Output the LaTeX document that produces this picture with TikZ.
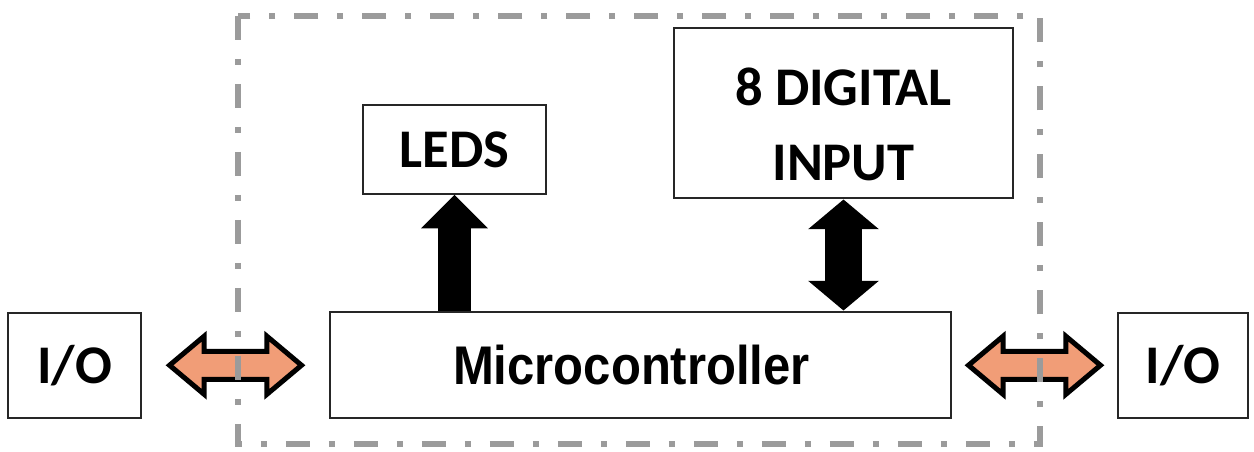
\documentclass[tikz,border=0pt]{standalone}
\usepackage{fontspec}
\setmainfont{Carlito}
\newfontfamily\mcufont[FakeStretch=0.9]{Liberation Sans}
\usetikzlibrary{arrows.meta,positioning,shapes.arrows,calc}
\definecolor{linkorange}{RGB}{241,157,119}
\definecolor{framegray}{RGB}{155,155,155}

\begin{document}
\begin{tikzpicture}[
  x=0.02cm, y=-0.02cm,
  box/.style={rectangle, draw=black!85, line width=0.8pt, fill=white,
              align=center, inner sep=0pt,
              font=\bfseries\fontsize{31}{43}\selectfont},
  uparrow/.style={single arrow, fill=black, inner sep=0.32cm,
                  shape border rotate=90, single arrow head extend=0.34cm,
                  minimum height=2.32cm},
  busarrow/.style={double arrow, fill=black, inner sep=0.36cm,
                   shape border rotate=90, double arrow head extend=0.34cm,
                   double arrow tip angle=100, minimum height=2.22cm},
  ioarrow/.style={double arrow, draw=black, fill=linkorange,
                  line width=0.1cm, inner sep=0.23cm,
                  double arrow head extend=0.3cm, double arrow tip angle=80,
                  minimum height=2.64cm},
  frame/.style={draw=framegray, line width=0.11cm,
                dash pattern=on 0.48cm off 0.38cm on 0.12cm off 0.38cm}
]
\useasboundingbox (0,0) rectangle (1254,451);

% blocks
\node[box, minimum width=12.42cm, minimum height=2.12cm,
      font=\mcufont\bfseries\fontsize{31}{36}\selectfont] (mcu) at (640.5,365) {\hspace*{-0.36cm}Microcontroller};
\node[box, minimum width=2.66cm, minimum height=2.1cm] (iol) at (74.5,365.5) {I/O};
\node[box, minimum width=2.6cm, minimum height=2.1cm] (ior) at (1183,365.5) {I/O};
\node[box, minimum width=3.66cm, minimum height=1.78cm] (leds) at (454.5,149.5) {LEDS};
\node[box, minimum width=6.78cm, minimum height=3.4cm] (dig) at (843.5,113)
  {\rule{0pt}{1.2cm}8 DIGITAL\\INPUT};

% links
\node[uparrow, anchor=tail] (ledlink) at (leds.south |- mcu.north) {};
\node[busarrow] (diglink) at ($(dig.south)!0.5!(dig.south |- mcu.north)$) {};
\node[ioarrow] (leftlink) at ($(iol.east)!0.5!(mcu.west)$) {};
\node[ioarrow] (rightlink) at ($(mcu.east)!0.5!(ior.west)$) {};

% board outline
\draw[frame] (238,16) rectangle (1040,444);
\end{tikzpicture}
\end{document}
